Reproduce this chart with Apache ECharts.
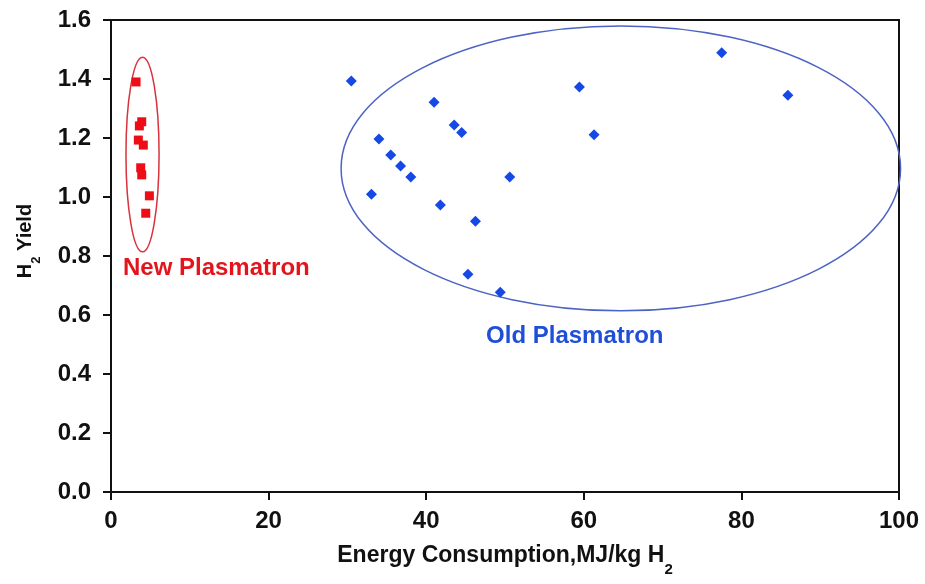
<!DOCTYPE html>
<html>
<head>
<meta charset="utf-8">
<script src="https://cdn.jsdelivr.net/npm/echarts@6/dist/echarts.min.js"></script>
<style>html,body{margin:0;padding:0;background:#fff}#c{width:925px;height:584px}</style>
</head>
<body>
<div id="c"></div>
<script>
// ---- data ----
var xTicks = [0, 20, 40, 60, 80, 100];
var yTicks = [0.0, 0.2, 0.4, 0.6, 0.8, 1.0, 1.2, 1.4, 1.6];

var newEnergy = [3.18, 3.9, 3.6, 3.47, 4.1, 3.77, 3.9, 4.87, 4.41];
var newYield  = [1.39, 1.255, 1.241, 1.193, 1.176, 1.099, 1.075, 1.004, 0.945];

var oldEnergy = [30.5, 41.0, 34.0, 43.55, 44.5, 35.5, 36.75, 38.05, 50.6, 33.05, 41.8, 46.25, 45.3, 49.4, 59.45, 61.3, 77.5, 85.9];
var oldYield  = [1.393, 1.321, 1.197, 1.244, 1.219, 1.142, 1.105, 1.068, 1.068, 1.009, 0.973, 0.918, 0.738, 0.677, 1.373, 1.211, 1.489, 1.345];

// group ellipses: centre x, centre y, radius x, radius y
var ellipseNames = ['New Plasmatron', 'Old Plasmatron'];
var ellipseCx = [4.0, 64.7];
var ellipseCy = [1.144, 1.097];
var ellipseRx = [2.1, 35.5];
var ellipseRy = [0.33, 0.483];

// group label anchors (left edge, vertical middle)
var labelX = [1.52, 47.6];
var labelY = [0.759, 0.527];

var RED = '#ee0d16', BLUE = '#1648e6';
var ellipseColors = ['#d8323c', '#4d63c4'];
var labelColors = ['#e3141c', '#1f4fd8'];

function zip(a, b) { return a.map(function (v, i) { return [v, b[i]]; }); }

var chart = echarts.init(document.getElementById('c'));
var FONT = '"Liberation Sans", Arial, sans-serif';

chart.setOption({
  backgroundColor: '#fff',
  animation: false,
  grid: { left: 111, right: 26, top: 20, bottom: 92, show: true, borderColor: '#111', borderWidth: 2, backgroundColor: 'transparent' },
  xAxis: {
    type: 'value', min: xTicks[0], max: xTicks[xTicks.length - 1], interval: 20,
    name: 'Energy Consumption,MJ/kg H{s|2}',
    nameLocation: 'middle', nameGap: 52,
    nameTextStyle: { fontFamily: FONT, fontSize: 23, fontWeight: 'bold', color: '#111',
      rich: { s: { fontFamily: FONT, fontSize: 15, fontWeight: 'bold', color: '#111', verticalAlign: 'bottom', padding: [0, 0, -10, 0] } } },
    axisLine: { lineStyle: { color: '#111', width: 2 } },
    axisTick: { show: true, length: 8, lineStyle: { color: '#111', width: 2 } },
    axisLabel: { margin: 17, fontFamily: FONT, fontSize: 24, fontWeight: 'bold', color: '#111' },
    splitLine: { show: false }
  },
  yAxis: {
    type: 'value', min: yTicks[0], max: yTicks[yTicks.length - 1], interval: 0.2,
    name: '{a|H}{s|2}{a| Yield}',
    nameLocation: 'middle', nameGap: 76, nameRotate: 90,
    nameTextStyle: { padding: [0, 0, 0, 30],
      rich: {
        a: { fontFamily: FONT, fontSize: 20, fontWeight: 'bold', color: '#111' },
        s: { fontFamily: FONT, fontSize: 13, fontWeight: 'bold', color: '#111', verticalAlign: 'bottom', padding: [0, 0, -8, 0] }
      } },
    axisLine: { lineStyle: { color: '#111', width: 2 } },
    axisTick: { show: true, length: 8, lineStyle: { color: '#111', width: 2 } },
    axisLabel: { margin: 20, fontFamily: FONT, fontSize: 24, fontWeight: 'bold', color: '#111',
      formatter: function (v) { return v.toFixed(1); } },
    splitLine: { show: false }
  },
  series: [
    {
      name: 'New Plasmatron', type: 'scatter', symbol: 'rect', symbolSize: 9,
      itemStyle: { color: RED, opacity: 1 }, data: zip(newEnergy, newYield), z: 3
    },
    {
      name: 'Old Plasmatron', type: 'scatter', symbol: 'diamond', symbolSize: 11,
      itemStyle: { color: BLUE, opacity: 1 }, data: zip(oldEnergy, oldYield), z: 3
    },
    {
      type: 'custom', clip: false, silent: true, z: 2,
      data: ellipseCx.map(function (v, i) { return [v, ellipseCy[i], ellipseRx[i], ellipseRy[i]]; }),
      renderItem: function (params, api) {
        var c = api.coord([api.value(0), api.value(1)]);
        var s = api.size([api.value(2), api.value(3)]);
        return {
          type: 'ellipse',
          shape: { cx: c[0], cy: c[1], rx: s[0], ry: s[1] },
          style: { fill: 'none', stroke: ellipseColors[params.dataIndex], lineWidth: 1.5 }
        };
      }
    },
    {
      type: 'scatter', symbolSize: 0, silent: true, z: 4,
      itemStyle: { opacity: 1 },
      data: labelX.map(function (v, i) {
        return { value: [v, labelY[i]], name: ellipseNames[i], label: { color: labelColors[i] } };
      }),
      label: {
        show: true, position: 'right', distance: 0, opacity: 1,
        fontFamily: FONT, fontSize: 24, fontWeight: 'bold',
        formatter: function (p) { return p.name; }
      }
    }
  ]
});
</script>
</body>
</html>
